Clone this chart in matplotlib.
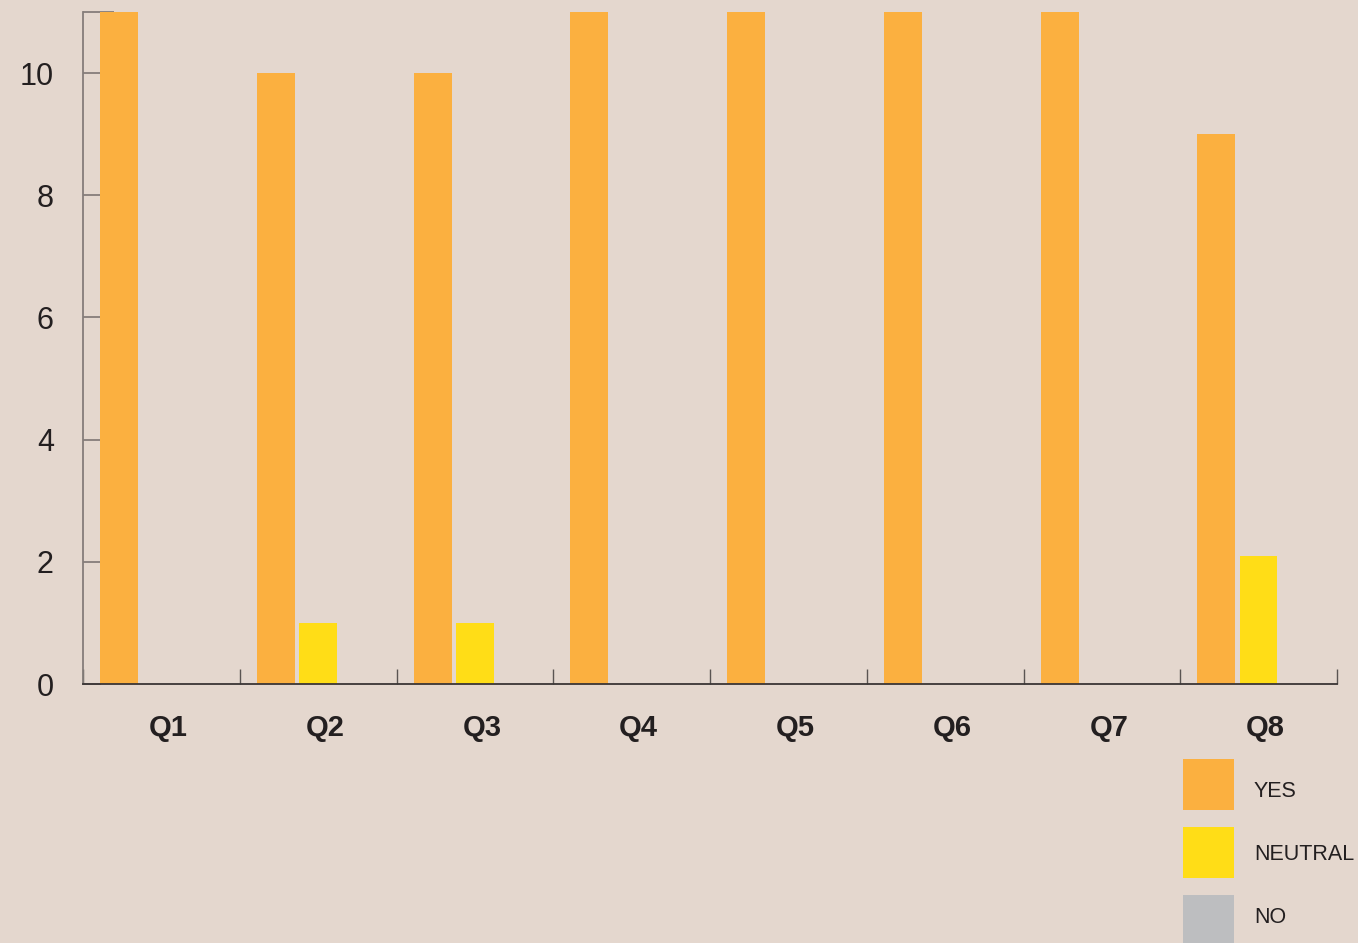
import matplotlib
matplotlib.use("Agg")
import matplotlib.pyplot as plt
from matplotlib.patches import Rectangle
import numpy as np

categories = ["Q1", "Q2", "Q3", "Q4", "Q5", "Q6", "Q7", "Q8"]
yes_vals = [11, 10, 10, 11, 11, 11, 11, 9]
neutral_vals = [0, 1, 1, 0, 0, 0, 0, 2.1]
no_vals = [0, 0, 0, 0, 0, 0, 0, 0]
series_names = ["YES", "NEUTRAL", "NO"]
series_colors = ["#FBB040", "#FFDD17", "#BDBEC0"]
y_ticks = [0, 2, 4, 6, 8, 10]

bg = "#E4D7CE"
plt.rcParams["font.family"] = ["Liberation Sans", "DejaVu Sans"]

W, H = 1358, 943
fig = plt.figure(figsize=(W / 100, H / 100), dpi=100, facecolor=bg)
ax = fig.add_axes([83 / W, 1 - 684 / H, (1337 - 83) / W, (684 - 12) / H])
ax.set_facecolor(bg)

x = np.arange(len(categories))
width = 0.242
offsets = [0.11, 0.378, 0.646]
for vals, off, col, name in zip([yes_vals, neutral_vals, no_vals], offsets, series_colors, series_names):
    ax.bar(x + off, vals, width=width, align="edge", color=col, label=name, zorder=2)

ax.set_xlim(0, len(categories))
ax.set_ylim(0, 11)

for s in ["top", "right"]:
    ax.spines[s].set_visible(False)
ax.spines["left"].set_color("#857d7a")
ax.spines["left"].set_linewidth(1.3)
ax.spines["bottom"].set_color("#3a3535")
ax.spines["bottom"].set_linewidth(1.3)
ax.spines["bottom"].set_zorder(3)

ax.set_yticks(y_ticks)
ax.set_yticklabels([str(v) for v in y_ticks])
ax.set_yticks([11], minor=True)
ax.tick_params(axis="y", which="major", direction="in", length=13, width=1.3,
               color="#857d7a", labelsize=22, labelcolor="#231f20", pad=21)
ax.tick_params(axis="y", which="minor", direction="in", length=22, width=1.3,
               color="#857d7a")

ax.set_xticks(x + 0.5 + 0.045)
ax.set_xticklabels(categories, fontweight="bold")
ax.set_xticks(np.arange(0, len(categories) + 1), minor=True)
ax.tick_params(axis="x", which="major", length=0, labelsize=21,
               labelcolor="#231f20", pad=21.5)
ax.tick_params(axis="x", which="minor", direction="in", length=11, width=1.0,
               color="#5a5452")

# legend drawn manually (pixel layout of the reference)
leg_x, leg_size, leg_tx = 1183, 51, 1254
leg_tops = [759, 827, 895]
leg_baselines = [797, 860, 923]
for name, col, top, base in zip(series_names, series_colors, leg_tops, leg_baselines):
    fig.add_artist(Rectangle((leg_x / W, 1 - (top + leg_size) / H), leg_size / W, leg_size / H,
                             transform=fig.transFigure, facecolor=col, edgecolor="none"))
    fig.text(leg_tx / W, 1 - base / H, name, fontsize=15.5, color="#231f20",
             ha="left", va="baseline")

fig.savefig("out.png", dpi=100, facecolor=bg)
